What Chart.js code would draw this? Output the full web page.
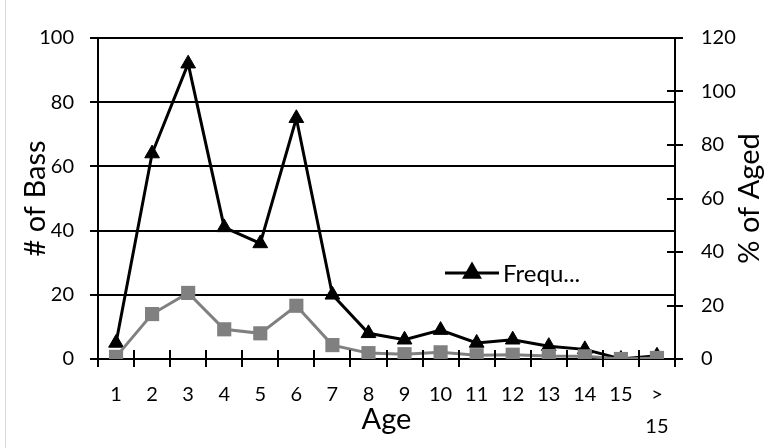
<!DOCTYPE html>
<html>
<head>
<meta charset="utf-8">
<script src="https://cdn.jsdelivr.net/npm/chart.js@4.4.0/dist/chart.umd.min.js"></script>
<style>
  html, body { margin: 0; padding: 0; background: #fff; }
  #wrap { position: relative; width: 769px; height: 448px; }
  #frame { position: absolute; left: 5px; top: 0; width: 1px; height: 448px; background: #d9d9d9; }
</style>
</head>
<body>
<div id="wrap">
  <div id="frame"></div>
  <canvas id="bassChart"></canvas>
</div>
<script>
// age classes on the x axis
const ages = ['1', '2', '3', '4', '5', '6', '7', '8', '9', '10', '11', '12', '13', '14', '15', ['>', '15']];
// number of bass per age (left axis)
const frequency = [5, 64, 92, 41, 36, 75, 20, 8, 6, 9, 5, 6, 4, 3, 0, 1];
// percent of aged fish (right axis)
const percentAged = [0.8, 16.8, 24.7, 11.1, 9.6, 19.9, 5.2, 2.2, 1.8, 2.5, 1.4, 1.6, 1.1, 1.0, 0, 0.4];
const legendText = 'Frequ...';

const fontFam = 'Lato, "Noto Sans", sans-serif';

// tick marks that cross the axis lines, like the Excel original
const crossTicks = {
  id: 'crossTicks',
  afterDraw(chart) {
    const ctx = chart.ctx;
    const x = chart.scales.x;
    const yR = chart.scales.y1;
    const axisY = x.top;
    ctx.save();
    ctx.strokeStyle = '#000';
    ctx.lineWidth = 2;
    const half = (x.getPixelForValue(1) - x.getPixelForValue(0)) / 2;
    for (let i = 0; i <= ages.length; i++) {
      const px = Math.round(x.getPixelForValue(i) - half);
      ctx.beginPath();
      ctx.moveTo(px, axisY - 9);
      ctx.lineTo(px, axisY + 8);
      ctx.stroke();
    }
    yR.ticks.forEach(t => {
      const py = Math.round(yR.getPixelForValue(t.value));
      ctx.beginPath();
      ctx.moveTo(yR.left - 8, py);
      ctx.lineTo(yR.left + 8, py);
      ctx.stroke();
    });

    // right axis title, reading bottom to top
    ctx.fillStyle = '#000';
    ctx.font = '29px ' + fontFam;
    ctx.textAlign = 'center';
    ctx.textBaseline = 'middle';
    ctx.translate(750, (chart.chartArea.top + chart.chartArea.bottom) / 2);
    ctx.rotate(-Math.PI / 2);
    ctx.fillText('% of Aged', 0, 0);
    ctx.restore();

    // legend box inside the plot
    ctx.save();
    ctx.strokeStyle = '#000';
    ctx.lineWidth = 3;
    ctx.beginPath();
    ctx.moveTo(445, 273);
    ctx.lineTo(499, 273);
    ctx.stroke();
    Chart.helpers.drawPoint(ctx, { pointStyle: 'triangle', radius: 8.5, borderWidth: 1 }, 472, 273);
    ctx.fillStyle = '#000';
    ctx.fill();
    ctx.font = '24px ' + fontFam;
    ctx.textAlign = 'left';
    ctx.textBaseline = 'middle';
    ctx.fillText(legendText, 503, 274);
    ctx.restore();
  }
};

new Chart(document.getElementById('bassChart'), {
  type: 'line',
  data: {
    labels: ages,
    datasets: [
      {
        label: 'Frequency',
        data: frequency,
        yAxisID: 'y',
        borderColor: '#000',
        backgroundColor: '#000',
        borderWidth: 3,
        pointStyle: 'triangle',
        pointRadius: 8.5,
        pointBorderWidth: 1,
        tension: 0,
        order: 1
      },
      {
        label: '% of Aged',
        data: percentAged,
        yAxisID: 'y1',
        borderColor: '#808080',
        backgroundColor: '#808080',
        borderWidth: 3,
        pointStyle: 'rect',
        pointRadius: 10,
        pointBorderWidth: 0,
        tension: 0,
        order: 0
      }
    ]
  },
  options: {
    responsive: true,
    maintainAspectRatio: false,
    animation: false,
    events: [],
    layout: { padding: { top: 34, left: 0, right: 0, bottom: 0 } },
    plugins: {
      legend: { display: false },
      tooltip: { enabled: false }
    },
    scales: {
      x: {
        type: 'category',
        offset: true,
        grid: { display: false, drawTicks: false },
        border: { display: true, color: '#000', width: 2 },
        ticks: {
          color: '#000',
          font: { family: fontFam, size: 20, lineHeight: 1.6 },
          padding: 20,
          maxRotation: 0,
          autoSkip: false
        },
        title: {
          display: true,
          text: 'Age',
          color: '#000',
          font: { family: fontFam, size: 29 },
          padding: { top: 0, bottom: 11 }
        },
        afterFit(scale) { scale.height = 89; }
      },
      y: {
        position: 'left',
        min: 0,
        max: 100,
        ticks: {
          stepSize: 20,
          color: '#000',
          font: { family: fontFam, size: 20 },
          padding: 16
        },
        grid: { color: '#000', lineWidth: 2, tickLength: 8, drawTicks: true },
        border: { display: true, color: '#000', width: 2 },
        title: {
          display: true,
          text: '# of Bass',
          color: '#000',
          font: { family: fontFam, size: 29 },
          padding: { top: 18, bottom: 0 }
        },
        afterFit(scale) { scale.width = 98; }
      },
      y1: {
        position: 'right',
        min: 0,
        max: 120,
        ticks: {
          stepSize: 20,
          color: '#000',
          font: { family: fontFam, size: 20 },
          padding: 26
        },
        grid: { display: false, drawTicks: false, drawOnChartArea: false },
        border: { display: true, color: '#000', width: 2 },
        title: { display: false },
        afterFit(scale) { scale.width = 94; }
      }
    }
  },
  plugins: [crossTicks]
});
</script>
</body>
</html>
